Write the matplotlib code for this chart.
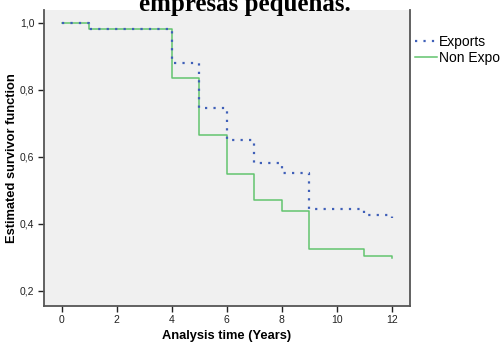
import numpy as np
import matplotlib.pyplot as plt

# Kaplan-Meier steps
t_exp = [0, 1, 4, 5, 6, 7, 8, 9, 11, 12]
s_exp = [1.0, 0.982, 0.879, 0.746, 0.651, 0.58, 0.553, 0.444, 0.426, 0.418]

t_non = [0, 1, 4, 5, 6, 7, 8, 9, 11, 12]
s_non = [1.0, 0.98, 0.836, 0.665, 0.55, 0.471, 0.439, 0.324, 0.304, 0.298]

x_ticks = [0, 2, 4, 6, 8, 10, 12]
y_ticks = [0.2, 0.4, 0.6, 0.8, 1.0]

plt.rcParams['font.family'] = ['Liberation Sans', 'DejaVu Sans']

fig = plt.figure(figsize=(5, 3.43), dpi=100)
ax = fig.add_axes([0.088, 0.109, 0.732, 0.862])
ax.set_facecolor('#f0f0f0')

ax.step(t_exp, s_exp, where='post', color='#3f5fb8', lw=1.6,
        linestyle=(0, (1, 2.8)), label='Exports', zorder=3)
ax.step(t_non, s_non, where='post', color='#62c46e', lw=1.1,
        label='Non Exporters', zorder=2)

ax.set_xlim(-0.64, 12.66)
ax.set_ylim(0.156, 1.038)
ax.set_xticks(x_ticks)
ax.set_yticks(y_ticks)
ax.set_yticklabels([('%.1f' % v).replace('.', ',') for v in y_ticks])
ax.tick_params(labelsize=7.5, colors='#222222', length=4, width=1, pad=3)

for side in ['left', 'bottom', 'right']:
    ax.spines[side].set_color('#555555')
    ax.spines[side].set_linewidth(1.3)
ax.spines['top'].set_visible(False)

ax.set_xlabel('Analysis time (Years)', fontsize=9.3, fontweight='bold', labelpad=3)
ax.set_ylabel('Estimated survivor function', fontsize=9.3, fontweight='bold', labelpad=1)

ax.legend(loc='upper left', bbox_to_anchor=(0.998, 0.935), frameon=False,
          fontsize=10, handlelength=1.6, handletextpad=0.15, labelspacing=0.15,
          borderaxespad=0)

fig.text(0.49, 0.968, 'empresas pequeñas.', ha='center', va='baseline',
         fontsize=18, fontweight='bold', family=['Liberation Serif', 'DejaVu Serif'])

fig.savefig('out.png', dpi=100)
